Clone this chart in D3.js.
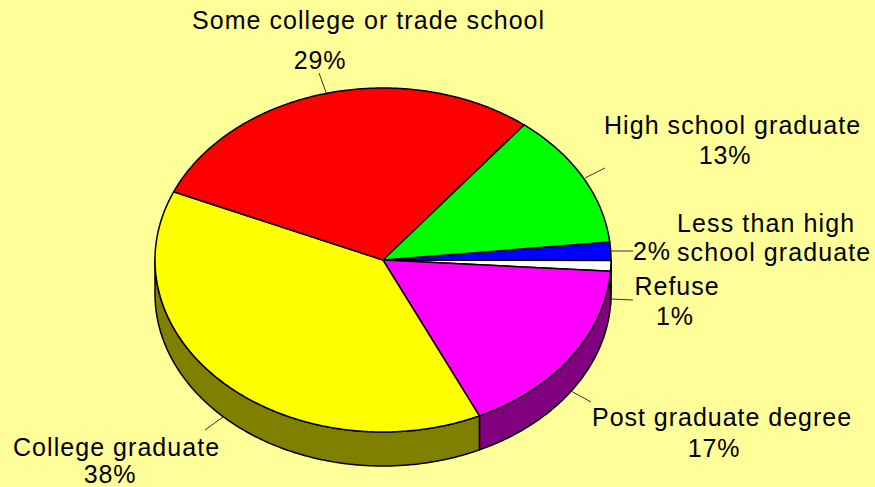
<!DOCTYPE html>
<html><head><meta charset="utf-8">
<script src="https://cdn.jsdelivr.net/npm/d3@7/dist/d3.min.js"></script>
<style>html,body{margin:0;padding:0;background:#FFFF99;overflow:hidden}svg{display:block}
text{font-family:"Liberation Sans",Arial,sans-serif;font-size:25px;letter-spacing:0.9px;fill:#000;text-anchor:middle}</style>
</head><body><svg id="c" width="875" height="487"></svg>
<script>
const categories = ["Less than high school graduate","Refuse","Post graduate degree","College graduate","Some college or trade school","High school graduate"];
const values = [1.7, 1.0, 17.0, 38.4, 29.1, 12.7];
const percentLabels = ["2%","1%","17%","38%","29%","13%"];
const topColors = ["#0000FF","#FFFFFF","#FF00FF","#FFFF00","#FF0000","#00FF00"];
const sideColors = ["#000080","#808080","#800080","#808000","#800000","#008000"];

// layout (not data): [text, centre x, baseline y, text width]
const W = 875, H = 487, cx = 383, cy = 260, rx = 228, ry = 172, depth = 34;
const startDeg = 84;
const labelLayout = [
  {lines:[["Less than high",766,232,178],["school graduate",774,261,194]], pct:[652,260], leader:[633,251,610,251]},
  {lines:[["Refuse",677,295,85]], pct:[675,325], leader:[633,300,611,299]},
  {lines:[["Post graduate degree",722,426,260]], pct:[714,457], leader:[591,402,571,391]},
  {lines:[["College graduate",116.5,456,207]], pct:[110,483], leader:[205,430,223,417]},
  {lines:[["Some college or trade school",368.5,29,353]], pct:[320,69], leader:[319,73,327,95]},
  {lines:[["High school graduate",732.5,134,257]], pct:[725,164], leader:[605,168,585,178]}
];

const svg = d3.select("#c");
const x = d3.scaleLinear().domain([-1,1]).range([cx-rx,cx+rx]);
const y = d3.scaleLinear().domain([-1,1]).range([cy-ry,cy+ry]);

const pie = d3.pie().sort(null).value(d=>d)
  .startAngle(startDeg*Math.PI/180).endAngle((startDeg+360)*Math.PI/180);
const arcs = pie(values);

function rim(a0,a1,dy=0){
  const n = Math.max(2,Math.ceil(Math.abs(a1-a0)/0.01));
  return d3.range(n+1).map(i=>{
    const a = a0+(a1-a0)*i/n;
    return [x(Math.sin(a)), y(-Math.cos(a))+dy];
  });
}
const line = d3.line();

// side wall, only where the rim faces the viewer
const gSide = svg.append("g");
arcs.forEach((d,i)=>{
  const a0 = Math.max(d.startAngle,Math.PI/2), a1 = Math.min(d.endAngle,Math.PI*1.5);
  if(a1<=a0) return;
  const pts = rim(a0,a1,0).concat(rim(a1,a0,depth));
  gSide.append("path").attr("d",line(pts)+"Z").attr("fill",sideColors[i])
    .attr("stroke","#000").attr("stroke-width",1.5).attr("stroke-linejoin","round");
});

// top face
const gTop = svg.append("g");
arcs.forEach((d,i)=>{
  const pts = [[x(0),y(0)]].concat(rim(d.startAngle,d.endAngle));
  gTop.append("path").attr("d",line(pts)+"Z").attr("fill",topColors[i])
    .attr("stroke","#000").attr("stroke-width",1.5).attr("stroke-linejoin","round");
});

// leaders and labels
const gLab = svg.append("g");
labelLayout.forEach(l=>{
  const [x1,y1,x2,y2] = l.leader;
  gLab.append("line").attr("x1",x1).attr("y1",y1).attr("x2",x2).attr("y2",y2)
    .attr("stroke","#000").attr("stroke-width",0.8);
});
labelLayout.forEach((l,i)=>{
  l.lines.forEach(t=>gLab.append("text").attr("x",t[1]).attr("y",t[2])
    .attr("textLength",t[3]).attr("lengthAdjust","spacing").text(t[0]));
  gLab.append("text").attr("x",l.pct[0]).attr("y",l.pct[1]).text(percentLabels[i]);
});
</script></body></html>
